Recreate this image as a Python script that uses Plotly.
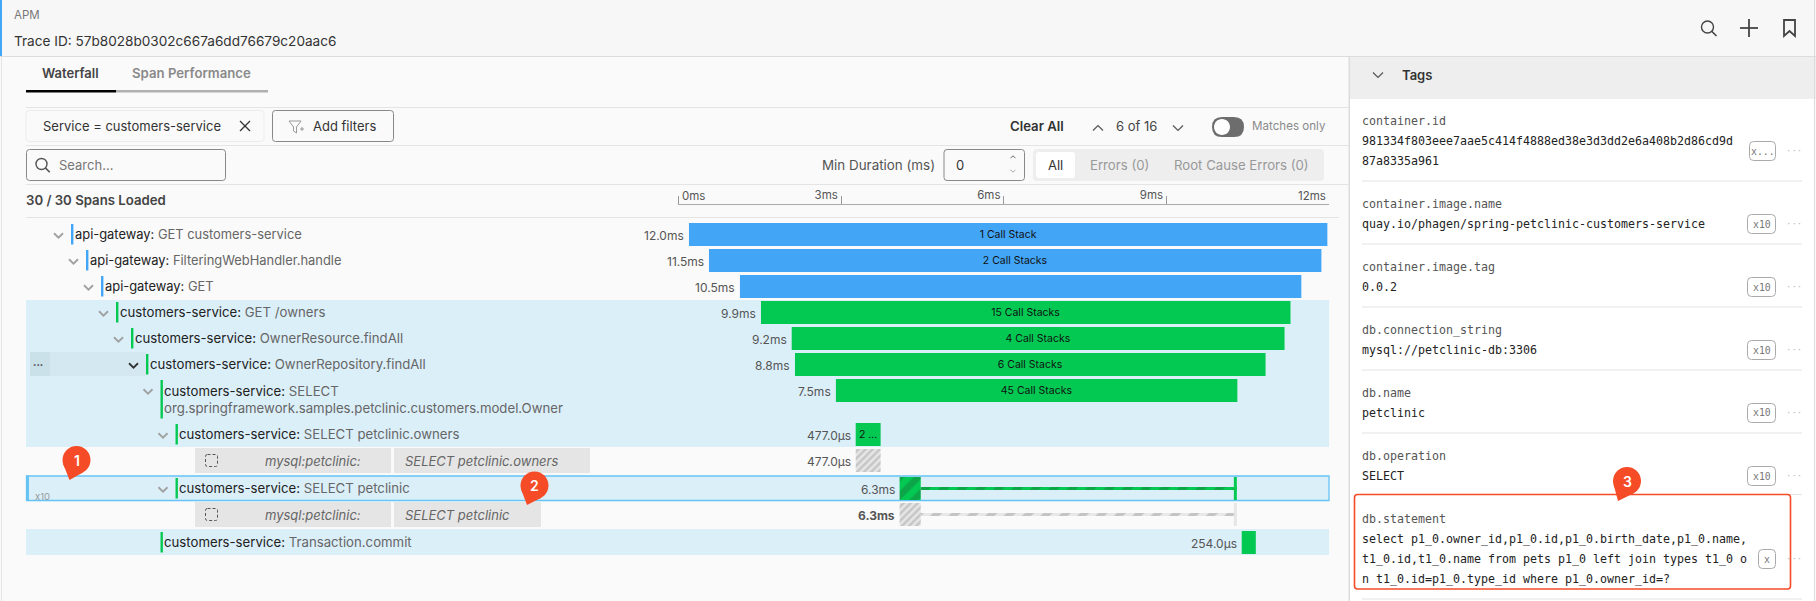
import plotly.graph_objects as go

W, H = 1816, 601

# ---------- data ----------
SPAN_SERVICE = ["api-gateway", "api-gateway", "api-gateway", "customers-service", "customers-service",
                "customers-service", "customers-service", "customers-service", "customers-service", "customers-service"]
SPAN_OP = ["GET customers-service", "FilteringWebHandler.handle", "GET", "GET /owners", "OwnerResource.findAll",
           "OwnerRepository.findAll", "SELECT<br>org.springframework.samples.petclinic.customers.model.Owner",
           "SELECT petclinic.owners", "SELECT petclinic", "Transaction.commit"]
SPAN_DURATION_LABEL = ["12.0ms", "11.5ms", "10.5ms", "9.9ms", "9.2ms", "8.8ms", "7.5ms", "477.0µs", "6.3ms", "254.0µs"]
SPAN_START_MS = [0.195, 0.564, 1.135, 1.523, 2.09, 2.15, 2.905, 3.27, 4.08, 10.39]
SPAN_END_MS = [11.97, 11.86, 11.49, 11.29, 11.18, 10.83, 10.31, 3.73, 10.30, 10.65]
SPAN_STACKS = ["1 Call Stack", "2 Call Stacks", "", "15 Call Stacks", "4 Call Stacks", "6 Call Stacks",
               "45 Call Stacks", "2 ...", "", ""]
TICK_MS = [3, 6, 9]
TICK_LABELS = ["3ms", "6ms", "9ms"]
DB_SPAN_STATEMENT = ["SELECT petclinic.owners", "SELECT petclinic"]
DB_SPAN_DURATION = ["477.0µs", "6.3ms"]
TAG_NAMES = ["container.id", "container.image.name", "container.image.tag", "db.connection_string", "db.name",
             "db.operation", "db.statement"]
TAG_VALUES = [["981334f803eee7aae5c414f4888ed38e3d3dd2e6a408b2d86cd9d", "87a8335a961"],
              ["quay.io/phagen/spring-petclinic-customers-service"], ["0.0.2"], ["mysql://petclinic-db:3306"],
              ["petclinic"], ["SELECT"],
              ["select p1_0.owner_id,p1_0.id,p1_0.birth_date,p1_0.name,",
               "t1_0.id,t1_0.name from pets p1_0 left join types t1_0 o",
               "n t1_0.id=p1_0.type_id where p1_0.owner_id=?"]]
TAG_BADGES = ["x...", "x10", "x10", "x10", "x10", "x10", "x"]

# ---------- layout constants ----------
SPAN_ROW_Y = [234.5, 260.5, 286.5, 312.5, 338.5, 364.5, 390.5, 434.5, 488.5, 542.5]
DB_ROW_Y = [460.5, 514.5]
SPAN_BAR_X = [71, 86, 101, 116, 131, 146, 160.5, 175.5, 175.5, 160.5]
BLUE, GREEN = "#42a5f6", "#03c953"
DARK_GREEN = "#0ca548"
HILITE = "#dbeff9"
SANS = "Inter"
MONO = "DejaVu Sans Mono"
fx = lambda x: x / W
fy = lambda y: 1 - y / H

shapes, ann = [], []


def rect(x0, y0, x1, y1, fill="rgba(0,0,0,0)", line=None, lw=1, layer="below"):
    shapes.append(dict(type="rect", xref="paper", yref="paper", x0=fx(x0), x1=fx(x1), y0=fy(y0), y1=fy(y1),
                       fillcolor=fill, line=dict(color=line or "rgba(0,0,0,0)", width=lw if line else 0), layer=layer))


def path(points, color="#666", lw=1.5, fill=None, close=False, layer="above", dash=None):
    d = ""
    for i, p in enumerate(points):
        if p[0] == "Q":
            d += f"Q{fx(p[1])},{fy(p[2])} {fx(p[3])},{fy(p[4])} "
        elif p[0] == "C":
            d += f"C{fx(p[1])},{fy(p[2])} {fx(p[3])},{fy(p[4])} {fx(p[5])},{fy(p[6])} "
        else:
            d += ("M" if i == 0 else "L") + f"{fx(p[0])},{fy(p[1])} "
    if close:
        d += "Z"
    ln = dict(color=color if lw else "rgba(0,0,0,0)", width=lw)
    if dash:
        ln["dash"] = dash
    shapes.append(dict(type="path", xref="paper", yref="paper", path=d, line=ln,
                       fillcolor=fill or "rgba(0,0,0,0)", layer=layer))


def rrect(x0, y0, x1, y1, r=3, fill=None, line=None, lw=1, layer="below", dash=None):
    path([(x0 + r, y0), (x1 - r, y0), ("Q", x1, y0, x1, y0 + r), (x1, y1 - r), ("Q", x1, y1, x1 - r, y1),
          (x0 + r, y1), ("Q", x0, y1, x0, y1 - r), (x0, y0 + r), ("Q", x0, y0, x0 + r, y0)],
         color=line or "rgba(0,0,0,0)", lw=lw if line else 0, fill=fill, close=True, layer=layer, dash=dash)


def circle(cx, cy, r, fill=None, line=None, lw=1.5, layer="above"):
    k = 0.5523 * r
    path([(cx + r, cy), ("C", cx + r, cy + k, cx + k, cy + r, cx, cy + r), ("C", cx - k, cy + r, cx - r, cy + k, cx - r, cy),
          ("C", cx - r, cy - k, cx - k, cy - r, cx, cy - r), ("C", cx + k, cy - r, cx + r, cy - k, cx + r, cy)],
         color=line or "rgba(0,0,0,0)", lw=lw if line else 0, fill=fill, close=True, layer=layer)


def txt(x, y, s, size=13, color="#333", anchor="left", family=SANS, weight=None, style=None):
    f = dict(size=size, color=color, family=family)
    if weight:
        f["weight"] = weight
    if style:
        f["style"] = style
    nudge = {"left": -1.2, "right": 1.2, "center": 0}[anchor]
    ann.append(dict(xref="paper", yref="paper", x=fx(x + nudge), y=fy(y), text=s, showarrow=False, xanchor=anchor,
                    yanchor="middle", align=anchor if anchor != "center" else "center", font=f, borderpad=0))


def chevron(cx, cy, up=False, color="#999", s=5, lw=1.6):
    d = -1 if up else 1
    path([(cx - s, cy - d * s * .5), (cx, cy + d * s * .5), (cx + s, cy - d * s * .5)], color=color, lw=lw)


def search_icon(cx, cy, r, color):
    circle(cx, cy, r, line=color, lw=1.4)
    path([(cx + r * .7, cy + r * .7), (cx + r * 1.5, cy + r * 1.5)], color=color, lw=1.6)


def pin(cx, cy, tipx, tipy, label):
    r = 14
    circle(cx, cy, r, fill="#f54b27")
    path([(cx - r * .95, cy + 4), (tipx, tipy), (cx + r * .45, cy + r * .9)], color="#f54b27", lw=0, fill="#f54b27", close=True)
    txt(cx, cy, label, 14, "white", "center", weight=600)


# ---------- page chrome ----------
rect(0, 0, W, 56, fill="#f7f7f7")
rect(0, 0, 2, 56, fill="#42a5f6")
rect(0, 56, W, 57, fill="#dcdcdc")
rect(1, 57, 2, H, fill="#e4e4e4")
rect(1349, 57, W, 99, fill="#eeeeee")
rect(1349, 99, 1814, H, fill="#ffffff")
rect(1348.5, 57, 1350, H, fill="#dcdcdc")
rect(1814, 0, 1815, H, fill="#dcdcdc")
txt(14, 15, "APM", 11.5, "#777")
txt(14, 41, "Trace ID: 57b8028b0302c667a6dd76679c20aac6", 13.6, "#333")
search_icon(1707.5, 27, 6, "#444")
path([(1749, 19), (1749, 37)], "#444", 1.8)
path([(1740, 28), (1758, 28)], "#444", 1.8)
path([(1784, 20), (1795, 20), (1795, 36), (1789.5, 31), (1784, 36)], "#444", 1.8, close=True)

txt(42, 73, "Waterfall", 13, "#444", weight=600)
txt(132, 73, "Span Performance", 13.2, "#8a8a8a", weight=600)
rect(116, 90, 268, 92.5, fill="#b0b0b0")
rect(26, 90, 116, 92.5, fill="#000000")
for yy, xr in ((107.5, 1349), (145.5, 1349), (184.5, 1349), (217.5, 1339)):
    rect(26, yy - .5, xr, yy + .5, fill="#e4e4e4")

rrect(26, 110.5, 264, 141.5, 3, fill="#fafafa", line="#ececec")
txt(43, 126, "Service = customers-service", 13, "#333")
path([(240, 121), (250, 131)], "#333", 1.3)
path([(250, 121), (240, 131)], "#333", 1.3)
rrect(272.5, 110.5, 393.5, 141.5, 3, fill="#fafafa", line="#888")
path([(289, 121), (301, 121), (296.5, 127), (296.5, 133), (293.5, 131), (293.5, 127)], "#999", 1, close=True)
path([(300, 129), (304, 129)], "#999", 1)
path([(302, 127), (302, 131)], "#999", 1)
txt(313, 126, "Add filters", 13, "#333")
rrect(26.5, 149.5, 225.5, 180.5, 3, fill="#fafafa", line="#888")
search_icon(41.5, 164, 5.5, "#555")
txt(59, 165, "Search...", 13, "#777")

txt(1010.5, 126, "Clear All", 13.2, "#333", weight=600)
chevron(1098, 128, up=True, color="#555", s=5, lw=1.2)
txt(1116, 126, "6 of 16", 13, "#444")
chevron(1178, 128, color="#555", s=5, lw=1.2)
rrect(1212, 117, 1244, 137, 10, fill="#6d6d6d", layer="above")
circle(1222, 127, 8, fill="#ffffff")
txt(1252, 126, "Matches only", 11.6, "#8a8a8a")

txt(935, 165, "Min Duration (ms)", 13.4, "#555", "right")
rrect(944, 149.5, 1024.5, 180.5, 3, fill="#fafafa", line="#888")
txt(956, 165, "0", 13, "#333")
chevron(1013, 157, up=True, color="#666", s=2.5, lw=1)
chevron(1013, 171, color="#aaa", s=2.5, lw=1)
rrect(1033, 149, 1324, 181, 4, fill="#eeeeee")
rrect(1036, 152, 1075, 178, 3, fill="#ffffff")
txt(1055.5, 165, "All", 13, "#333", "center")
txt(1090, 165, "Errors (0)", 13.2, "#999")
txt(1174, 165, "Root Cause Errors (0)", 13.2, "#999")
txt(26, 200, "30 / 30 Spans Loaded", 13.2, "#444", weight=600)
txt(1326, 196, "12ms", 11.5, "#555", "right")
txt(682, 196, "0ms", 11.5, "#555")

# highlighted rows
rect(26, 300, 1329, 447, fill=HILITE)
rect(26, 529, 1329, 555, fill=HILITE)
rect(26.5, 476, 1329, 500.5, fill=HILITE, line="#66c4f5", lw=1.3)
rect(26, 475.5, 29, 501, fill="#66c4f5")
rect(30, 352, 50, 376, fill="#cbe1ea")
rect(50, 352, 146, 376, fill="#d3e8f1")
txt(33, 364, "•••", 6, "#444")
txt(35, 496, "x10", 9.5, "#999")

# span names
for i, (srv, op, bx, y) in enumerate(zip(SPAN_SERVICE, SPAN_OP, SPAN_BAR_X, SPAN_ROW_Y)):
    col = BLUE if srv == "api-gateway" else GREEN
    if "<br>" in op:
        rect(bx, y - 10.5, bx + 2.4, y + 28, fill=col)
        txt(bx + 3.8, y + 8.5, f'{srv}: <span style="color:#666">{op}</span>', 13.2, "#222")
        ann[-1]["align"] = "left"
    else:
        rect(bx, y - 10.5, bx + 2.4, y + 10, fill=col)
        txt(bx + 3.8, y - .5, f'{srv}: <span style="color:#666">{op}</span>', 13.2 if srv != "api-gateway" else 12.9, "#222")
    if i < 9:
        chevron(bx - 12.5, y + 1, color="#333" if i == 5 else "#a0a0a0", s=4.5, lw=1.8)

# database sub rows
for y, st, xr in zip(DB_ROW_Y, DB_SPAN_STATEMENT, (590, 541)):
    rect(195, y - 12.5, 391, y + 12.5, fill="#e5e5e5")
    rect(394, y - 12.5, xr, y + 12.5, fill="#e5e5e5")
    rrect(205.5, y - 6, 217.5, y + 6, 2, line="#555", lw=1, layer="above", dash="3px,2px")
    txt(265, y, "mysql:petclinic:", 13, "#666", style="italic")
    txt(405, y, st, 13, "#666", style="italic")

# ---------- tags panel ----------
chevron(1378, 75, color="#555", s=5, lw=1.2)
txt(1402, 75, "Tags", 13, "#333", weight=600)
TAG_TOP = [121, 204, 267, 330, 393, 456, 519]
BADGE_Y = [151, 224, 287, 350, 413, 476, 559]
for i, (nm, vals, badge) in enumerate(zip(TAG_NAMES, TAG_VALUES, TAG_BADGES)):
    y0 = TAG_TOP[i]
    txt(1362, y0, nm, 11.63, "#555", family=MONO)
    for j, v in enumerate(vals):
        txt(1362, y0 + 20 * (j + 1), v, 11.63, "#222", family=MONO)
    by = BADGE_Y[i]
    x0 = {"x...": 1749.5, "x10": 1747.5, "x": 1758.5}[badge]
    rrect(x0, by - 9.5, 1775.5, by + 9.5, 4, fill="#ffffff", line="#aaa", layer="above")
    txt((x0 + 1775.5) / 2, by, badge, 9.8, "#777", "center", family=MONO)
    txt(1794, by, "···", 9, "#bbb", "center", family=MONO)
    ly = y0 + 20 * len(vals) + 20
    if i < 5:
        rect(1362, ly - .5, 1802, ly + .5, fill="#e4e4e4")
rect(1362, 494, 1802, 495, fill="#e4e4e4")
rect(1362, 598.5, 1802, 599.5, fill="#e4e4e4")
rrect(1354.5, 494.5, 1790.5, 589, 3, line="#f54b27", lw=1.6, layer="above")

pin(76.5, 460, 69.5, 480, "1")
pin(534.5, 485.5, 527, 505, "2")
pin(1627, 481, 1618, 501, "3")

# ---------- bars ----------
idx_blue = [0, 1, 2]
idx_green = [3, 4, 5, 6, 7, 9]


def solid(idx, color, name):
    return go.Bar(orientation="h", name=name, y=[SPAN_ROW_Y[i] for i in idx],
                  x=[SPAN_END_MS[i] - SPAN_START_MS[i] for i in idx], base=[SPAN_START_MS[i] for i in idx],
                  width=23, marker=dict(color=color, line_width=0), text=[SPAN_STACKS[i] for i in idx],
                  textposition="inside", insidetextanchor="middle", textangle=0, constraintext="none",
                  textfont=dict(family=SANS, size=10.5, color="#111"), hoverinfo="skip", showlegend=False)


fig = go.Figure()
fig.add_trace(solid(idx_blue, BLUE, "api-gateway"))
fig.add_trace(solid(idx_green, GREEN, "customers-service"))

# 6.3 ms span: compressed waterfall (self time head, thin wait line, tail tick)
SEL = 8
HEAD_MS = 0.39
TAIL_MS = 0.055
sel_start, sel_end = SPAN_START_MS[SEL], SPAN_END_MS[SEL]


def seg(y, start, dur, width, fg, bg, size, solidity=.5, color=None):
    pat = dict(shape="/", fgcolor=fg, bgcolor=bg, size=size, solidity=solidity, fillmode="replace") if fg else None
    m = dict(color=color or bg, line_width=0)
    if pat:
        m["pattern"] = pat
    return go.Bar(orientation="h", y=[y], x=[dur], base=[start], width=width, marker=m, hoverinfo="skip", showlegend=False)


y_sel, y_db2 = SPAN_ROW_Y[SEL], DB_ROW_Y[1]
fig.add_trace(seg(y_sel, sel_start, HEAD_MS, 23, DARK_GREEN, GREEN, 13))
fig.add_trace(seg(y_sel, sel_start + HEAD_MS, sel_end - sel_start - HEAD_MS, 3, DARK_GREEN, GREEN, 13))
fig.add_trace(seg(y_sel, sel_end - TAIL_MS, TAIL_MS, 23, None, GREEN, 0))
fig.add_trace(seg(y_db2, sel_start, HEAD_MS, 23, "#c6c6c6", "#e6e6e6", 5))
fig.add_trace(seg(y_db2, sel_start + HEAD_MS, sel_end - sel_start - HEAD_MS, 3, "#c4c4c4", "#e8e8e8", 13))
fig.add_trace(seg(y_db2, sel_end - TAIL_MS, TAIL_MS, 23, None, "#e6e6e6", 0))
fig.add_trace(seg(DB_ROW_Y[0], SPAN_START_MS[7], SPAN_END_MS[7] - SPAN_START_MS[7], 23, "#c6c6c6", "#e6e6e6", 5))

# duration labels anchored to each bar's start on the data axis
for i, (y, lab) in enumerate(zip(SPAN_ROW_Y, SPAN_DURATION_LABEL)):
    ann.append(dict(xref="x", yref="y", x=SPAN_START_MS[i], y=y + .5, xshift=-3.5, text=lab, showarrow=False, xanchor="right",
                    yanchor="middle", font=dict(family=SANS, size=12, color="#555"), borderpad=0))
for y, lab, st, w8 in zip(DB_ROW_Y, DB_SPAN_DURATION, (SPAN_START_MS[7], SPAN_START_MS[8]), (400, 700)):
    ann.append(dict(xref="x", yref="y", x=st, y=y + .5, xshift=-3.5, text=lab, showarrow=False, xanchor="right",
                    yanchor="middle", font=dict(family=SANS, size=12, color="#555", weight=w8), borderpad=0))

fig.update_layout(
    width=W, height=H, margin=dict(l=0, r=0, t=0, b=0), autosize=False,
    paper_bgcolor="#fafafa", plot_bgcolor="rgba(0,0,0,0)", barmode="overlay", shapes=shapes, annotations=ann,
    xaxis=dict(domain=[fx(678.4), fx(1329)], range=[0, 12], side="top", anchor="free", position=fy(203.5), tickmode="array",
               tickvals=[0] + TICK_MS, ticktext=[""] + TICK_LABELS, ticks="outside", ticklen=8, tickwidth=1.4, tickcolor="#999",
               showline=True, linecolor="#aaa", linewidth=1, showgrid=False, zeroline=False, fixedrange=True,
               ticklabelposition="outside left", ticklabelshift=-2, tickfont=dict(family=SANS, size=11.5, color="#555")),
    yaxis=dict(domain=[0, 1], range=[H, 0], visible=False, fixedrange=True),
    font=dict(family=SANS),
)
fig.write_html("out.html", config=dict(displayModeBar=False),
               post_script="document.body.style.margin='0';document.documentElement.style.overflow='hidden';")
